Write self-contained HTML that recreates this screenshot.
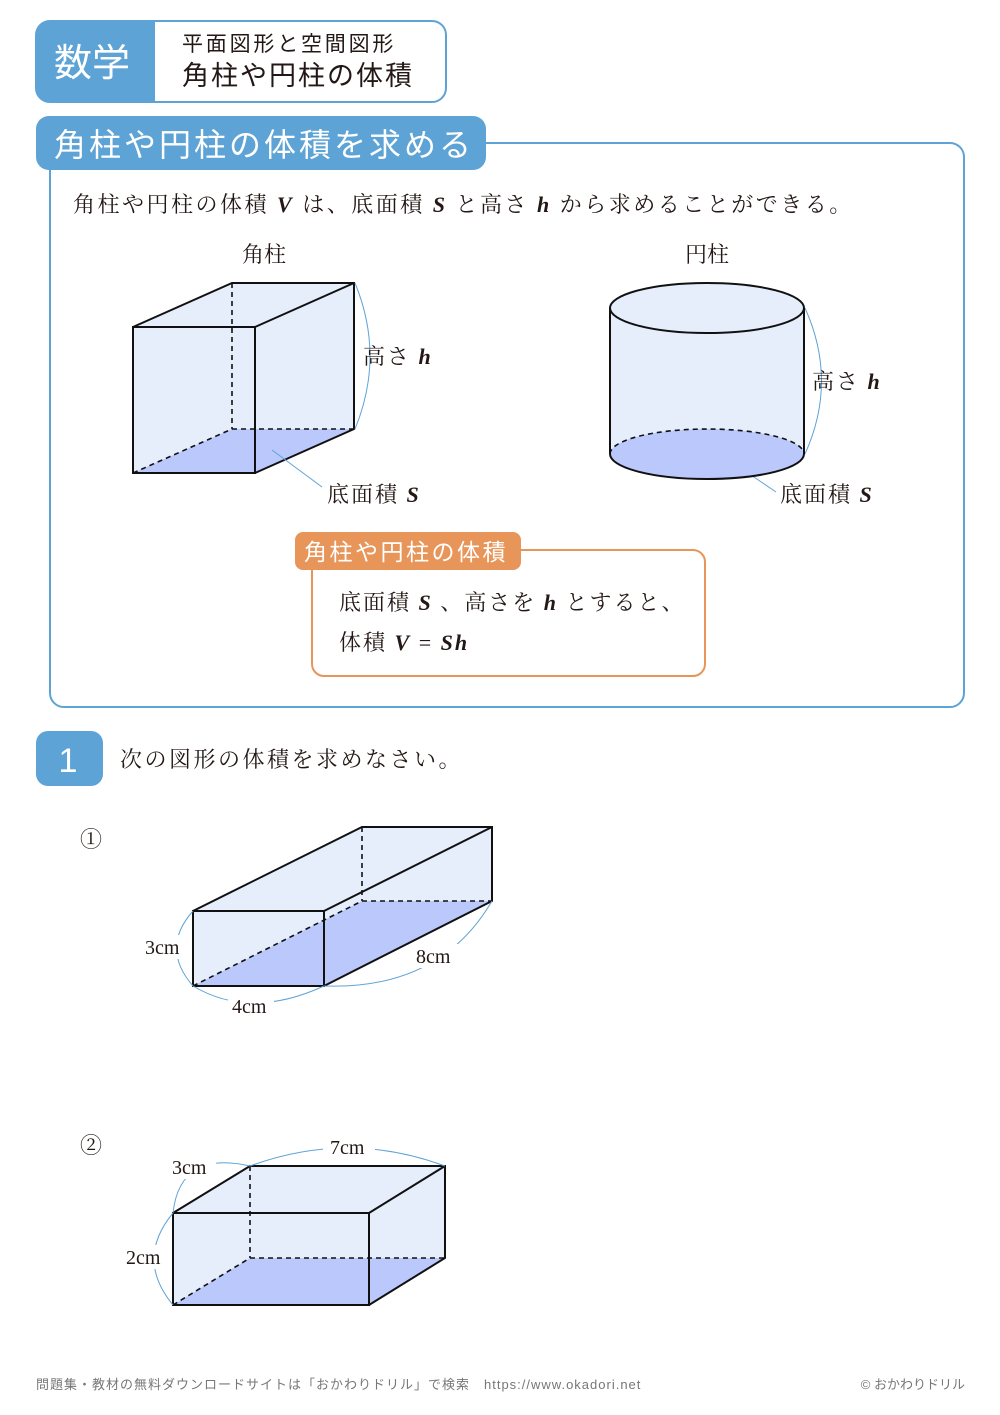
<!DOCTYPE html>
<html><head><meta charset="utf-8"><style>
html,body{margin:0;padding:0;background:#fff;}
svg{display:block;}
text{font-family:"Liberation Serif","Noto Serif CJK SC","Noto Sans CJK JP",serif;fill:#231815;}
.g{font-family:"Liberation Sans","Noto Sans CJK JP",sans-serif;}
.i{font-style:italic;font-weight:bold;font-family:"Liberation Serif",serif;}
</style></head><body>
<svg width="1000" height="1415" viewBox="0 0 1000 1415" xmlns="http://www.w3.org/2000/svg">
<!-- header -->
<rect x="36" y="21" width="410" height="81" rx="14" fill="#fff" stroke="#5ea3d6" stroke-width="2"/>
<path d="M50,21 H155 V102 H50 A14,14 0 0 1 36,88 V35 A14,14 0 0 1 50,21Z" fill="#5ea3d6"/>
<text x="92" y="76" class="g" font-size="38" text-anchor="middle" style="fill:#fff">数学</text>
<text x="182" y="51" class="g" font-size="21" letter-spacing="2.8">平面図形と空間図形</text>
<text x="182" y="85" class="g" font-size="27" letter-spacing="2">角柱や円柱の体積</text>
<!-- section box -->
<rect x="50" y="143" width="914" height="564" rx="14" fill="#fff" stroke="#5ea3d6" stroke-width="2"/>
<rect x="36" y="116" width="450" height="54" rx="13" fill="#5ea3d6"/>
<text x="54" y="156" class="g" font-size="32" letter-spacing="3" style="fill:#fff">角柱や円柱の体積を求める</text>
<text x="73" y="212" font-size="22" letter-spacing="2.5">角柱や円柱の体積 <tspan class="i">V</tspan> は、底面積 <tspan class="i">S</tspan> と高さ <tspan class="i">h</tspan> から求めることができる。</text>
<text x="264" y="262" font-size="22" text-anchor="middle">角柱</text>
<text x="707" y="262" font-size="22" text-anchor="middle">円柱</text>
<!-- prism -->
<polygon points="133,327 232,283 354,283 354,429 255,473 133,473" fill="#e6eefc"/>
<polygon points="133,473 255,473 354,429 232,429" fill="#bac8fb"/>
<g stroke="#111" stroke-width="2" fill="none">
<rect x="133" y="327" width="122" height="146"/>
<polyline points="133,327 232,283 354,283 354,429 255,473"/>
<line x1="255" y1="327" x2="354" y2="283"/>
<g stroke-dasharray="5,4" stroke-width="1.6"><line x1="232" y1="283" x2="232" y2="429"/><line x1="133" y1="473" x2="232" y2="429"/><line x1="232" y1="429" x2="354" y2="429"/></g>
</g>
<g stroke="#5ea3d6" stroke-width="1" fill="none">
<path d="M355,283 Q385,356 355,429"/>
<line x1="272" y1="450" x2="322" y2="487"/>
<path d="M805,308 Q838,381 805,454"/>
<line x1="723" y1="456" x2="776" y2="492"/>
</g>
<text x="363" y="364" font-size="22" letter-spacing="2">高さ <tspan class="i">h</tspan></text>
<text x="327" y="502" font-size="22" letter-spacing="2">底面積 <tspan class="i">S</tspan></text>
<!-- cylinder -->
<path d="M610,308 V454 A97,25 0 0 0 804,454 V308Z" fill="#e6eefc"/>
<ellipse cx="707" cy="454" rx="97" ry="25" fill="#bac8fb"/>
<ellipse cx="707" cy="308" rx="97" ry="25" fill="#e6eefc" stroke="#111" stroke-width="2"/>
<g stroke="#111" stroke-width="2" fill="none">
<line x1="610" y1="308" x2="610" y2="454"/><line x1="804" y1="308" x2="804" y2="454"/>
<path d="M610,454 A97,25 0 0 0 804,454"/>
<path d="M610,454 A97,25 0 0 1 804,454" stroke-dasharray="5,4" stroke-width="1.6"/>
</g>
<text x="812" y="389" font-size="22" letter-spacing="2">高さ <tspan class="i">h</tspan></text>
<text x="780" y="502" font-size="22" letter-spacing="2">底面積 <tspan class="i">S</tspan></text>
<!-- formula box -->
<rect x="312" y="550" width="393" height="126" rx="12" fill="#fff" stroke="#e8955a" stroke-width="2"/>
<rect x="295" y="532" width="226" height="38" rx="8" fill="#e8955a"/>
<text x="304" y="560" class="g" font-size="23" letter-spacing="2.5" style="fill:#fff">角柱や円柱の体積</text>
<text x="339" y="610" font-size="22" letter-spacing="2">底面積 <tspan class="i">S</tspan> 、高さを <tspan class="i">h</tspan> とすると、</text>
<text x="339" y="650" font-size="22" letter-spacing="2">体積 <tspan class="i">V</tspan> = <tspan class="i">Sh</tspan></text>
<!-- problem 1 -->
<rect x="36" y="731" width="67" height="55" rx="12" fill="#5ea3d6"/>
<text x="68" y="772" class="g" font-size="34" text-anchor="middle" style="fill:#fff">1</text>
<text x="120" y="767" font-size="22" letter-spacing="2.5">次の図形の体積を求めなさい。</text>
<text x="80" y="847" font-size="22">①</text>
<text x="80" y="1153" font-size="22">②</text>
<!-- fig1 -->
<polygon points="193,911 362,827 492,827 492,901 324,986 193,986" fill="#e6eefc"/>
<polygon points="193,986 324,986 492,901 362,901" fill="#bac8fb"/>
<g stroke="#111" stroke-width="2" fill="none">
<rect x="193" y="911" width="131" height="75"/>
<polyline points="193,911 362,827 492,827 492,901 324,986"/>
<line x1="324" y1="911" x2="492" y2="827"/>
<g stroke-dasharray="5,4" stroke-width="1.6"><line x1="362" y1="827" x2="362" y2="901"/><line x1="193" y1="986" x2="362" y2="901"/><line x1="362" y1="901" x2="492" y2="901"/></g>
</g>
<g stroke="#5ea3d6" stroke-width="1" fill="none">
<path d="M193,911 Q160,948 193,986"/>
<path d="M193,986 Q250,1020 324,986"/>
<path d="M324,986 Q440,990 492,901"/>
</g>
<rect x="138" y="935" width="50" height="24" fill="#fff"/><text x="145" y="954" font-size="20">3cm</text>
<rect x="228" y="995" width="46" height="22" fill="#fff"/><text x="232" y="1013" font-size="20">4cm</text>
<rect x="412" y="944" width="48" height="24" fill="#fff"/><text x="416" y="963" font-size="20">8cm</text>
<!-- fig2 -->
<polygon points="173,1213 250,1166 445,1166 445,1258 369,1305 173,1305" fill="#e6eefc"/>
<polygon points="173,1305 369,1305 445,1258 250,1258" fill="#bac8fb"/>
<g stroke="#111" stroke-width="2" fill="none">
<rect x="173" y="1213" width="196" height="92"/>
<polyline points="173,1213 250,1166 445,1166 445,1258 369,1305"/>
<line x1="369" y1="1213" x2="445" y2="1166"/>
<g stroke-dasharray="5,4" stroke-width="1.6"><line x1="250" y1="1166" x2="250" y2="1258"/><line x1="173" y1="1305" x2="250" y2="1258"/><line x1="250" y1="1258" x2="445" y2="1258"/></g>
</g>
<g stroke="#5ea3d6" stroke-width="1" fill="none">
<path d="M173,1213 Q135,1259 173,1305"/>
<path d="M173,1213 Q180,1150 250,1166"/>
<path d="M250,1166 Q348,1130 445,1166"/>
</g>
<rect x="122" y="1245" width="48" height="24" fill="#fff"/><text x="126" y="1264" font-size="20">2cm</text>
<rect x="168" y="1155" width="48" height="24" fill="#fff"/><text x="172" y="1174" font-size="20">3cm</text>
<rect x="323" y="1134" width="52" height="24" fill="#fff"/><text x="330" y="1154" font-size="20">7cm</text>
<!-- footer -->
<text x="36" y="1389" class="g" font-size="13" letter-spacing="1" style="fill:#777">問題集・教材の無料ダウンロードサイトは「おかわりドリル」で検索　https://www.okadori.net</text>
<text x="965" y="1389" class="g" font-size="13" text-anchor="end" style="fill:#777">© おかわりドリル</text>
</svg>
</body></html>
